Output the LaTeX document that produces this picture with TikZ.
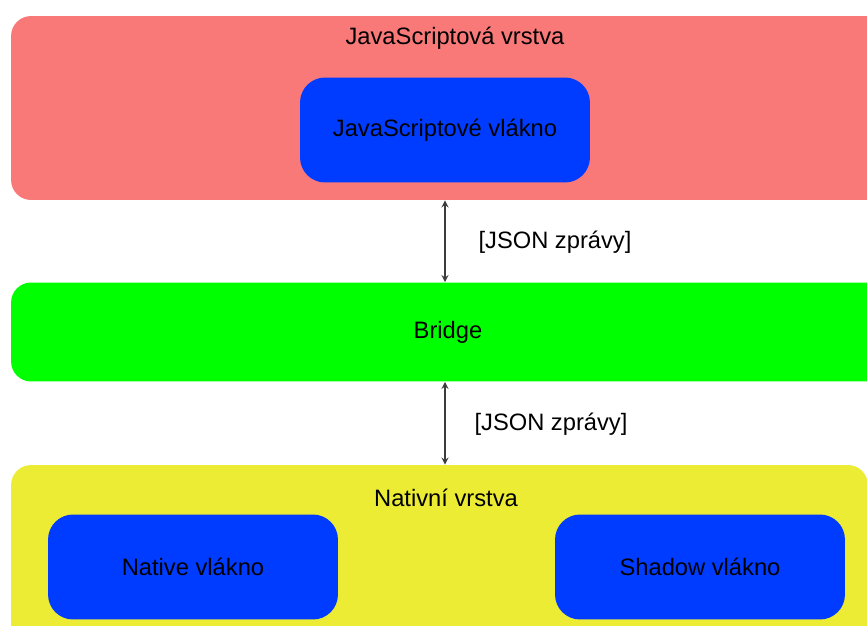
\documentclass[tikz,border=0pt]{standalone}
\usepackage{fontspec}
\setmainfont{Liberation Sans}
\definecolor{jsred}{RGB}{249,121,121}
\definecolor{bridgegreen}{RGB}{0,255,0}
\definecolor{nativeyellow}{RGB}{236,236,52}
\definecolor{threadblue}{RGB}{0,60,255}
\definecolor{arrowgray}{RGB}{60,60,60}
\begin{document}
\begin{tikzpicture}[x=0.02cm,y=-0.02cm,
  font=\fontsize{13.5}{16}\selectfont,
  layer/.style={rounded corners=0.4cm,inner sep=0pt,minimum width=17.48cm},
  thread/.style={fill=threadblue,rounded corners=0.5cm,inner sep=0pt,minimum width=5.8cm,minimum height=2.1cm},
  msg/.style={<->,>=stealth,thick,arrowgray}]
  \useasboundingbox (0,0) rectangle (867,626);
  \clip (0,0) rectangle (867,626);
  % layers
  \node[layer,fill=jsred,minimum height=3.68cm] (jslayer) at (448,108) {};
  \node[layer,fill=bridgegreen,minimum height=1.98cm] (bridge) at (448,332) {Bridge};
  \node[layer,fill=nativeyellow,minimum width=17.14cm,minimum height=4cm] (nativelayer) at (439.5,565) {};
  \node at (455,38) {JavaScriptová vrstva};
  \node at (446,498) {Nativní vrstva};
  % threads
  \node[thread] (jsthread) at (445,130) {JavaScriptové vlákno};
  \node[thread] (nativethread) at (193,567) {Native vlákno};
  \node[thread] (shadowthread) at (700,567) {Shadow vlákno};
  % messages
  \draw[msg] (jsthread |- jslayer.south) -- (jsthread |- bridge.north);
  \draw[msg] (jsthread |- bridge.south) -- (jsthread |- nativelayer.north);
  \node at (555,242) {[JSON zprávy]};
  \node at (551,424) {[JSON zprávy]};
\end{tikzpicture}
\end{document}
